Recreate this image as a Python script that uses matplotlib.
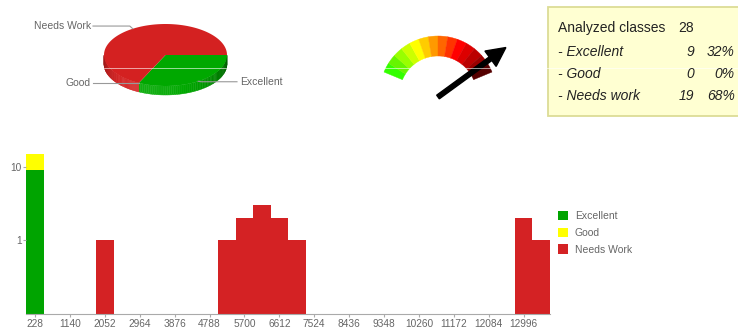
import numpy as np
import matplotlib.pyplot as plt
from matplotlib.patches import Rectangle, Wedge, Polygon, FancyArrow

plt.rcParams["font.family"] = ["Liberation Sans", "DejaVu Sans"]

# summary of the analyzed classes
class_names = ["Excellent", "Good", "Needs Work"]
class_counts = [9, 0, 19]
table_names = ["Excellent", "Good", "Needs work"]

# histogram of class sizes (bin width 456)
bin_width = 456
excellent_x = [228]
excellent_n = [9]
good_x = [228]
good_n = [6]
needs_x = [2052, 5244, 5700, 6156, 6612, 7068, 12996, 13452]
needs_n = [1, 1, 2, 3, 2, 1, 2, 1]
xtick_vals = [228, 1140, 2052, 2964, 3876, 4788, 5700, 6612, 7524, 8436,
              9348, 10260, 11172, 12084, 12996]

gauge_value = 0.9
gauge_colors = ["#33ff00", "#66f500", "#99ff00", "#ccff00", "#ffff00", "#ffcc00",
                "#ff9900", "#ff6600", "#ff3300", "#ff0000", "#dd0000", "#bb0000",
                "#990000", "#550000"]

GREEN = "#00a400"
RED = "#d42224"
YELLOW = "#ffff00"
GRAY = "#666666"

fig = plt.figure(figsize=(7.38, 3.29), dpi=100)

# pixel-space overlay for the pie, gauge and summary box
ov = fig.add_axes([0, 0, 1, 1])
ov.set_xlim(0, 738)
ov.set_ylim(329, 0)
ov.axis("off")


def shade(rgb, k):
    rgb = np.array(rgb)
    if k <= 1:
        return tuple(rgb * k)
    return tuple(rgb + (1 - rgb) * (k - 1))


# 3D pie
cx, cy, a, b, depth = 165.5, 55, 61.5, 31, 9
pie_cols = [(0, 0.66, 0), (1, 1, 0), (0.83, 0.13, 0.13)]
fracs = np.array(class_counts) / sum(class_counts)
edges = np.concatenate([[0], np.cumsum(fracs)]) * 2 * np.pi
for i in range(3):
    t1, t2 = edges[i], edges[i + 1]
    if t2 - t1 <= 0:
        continue
    # side wall, only the front half is visible
    s1, s2 = max(t1, 0), min(t2, np.pi)
    if s2 > s1:
        ts = np.linspace(s1, s2, 60)
        for u, v in zip(ts[:-1], ts[1:]):
            k = 0.62 + 0.45 * np.cos((u + v) / 2 - np.radians(105))
            pts = [(cx + a * np.cos(u), cy + b * np.sin(u)),
                   (cx + a * np.cos(v), cy + b * np.sin(v)),
                   (cx + a * np.cos(v), cy + b * np.sin(v) + depth),
                   (cx + a * np.cos(u), cy + b * np.sin(u) + depth)]
            ov.add_patch(Polygon(pts, closed=True, fc=shade(pie_cols[i], k),
                                 ec=shade(pie_cols[i], k), lw=0.3))
    ts = np.linspace(t1, t2, 120)
    pts = [(cx, cy)] + [(cx + a * np.cos(t), cy + b * np.sin(t)) for t in ts]
    ov.add_patch(Polygon(pts, closed=True, fc=pie_cols[i], ec="none"))

# pie labels with leader lines from the rim
for i, name in enumerate(class_names):
    tm = (edges[i] + edges[i + 1]) / 2
    px, py = cx + a * np.cos(tm), cy + b * np.sin(tm)
    if np.cos(tm) >= 0:
        ov.plot([px, px + 3, 237], [py, py + 0.5, py + 0.5], color="#999999", lw=0.8)
        ov.text(240, py + 0.5, name, fontsize=7.5, color=GRAY, va="center", ha="left")
    else:
        ly = py - 2.7 if np.sin(tm) < 0 else py
        ov.plot([px, px - 3, 93], [py, ly, ly], color="#999999", lw=0.8)
        ov.text(91, ly, name, fontsize=7.5, color=GRAY, va="center", ha="right")

# gauge
gx, gy, R, r = 438, 94.5, 58.5, 38.5
a0, a1 = 157.4, 22.6
step = (a0 - a1) / len(gauge_colors)
for j, c in enumerate(gauge_colors):
    hi = a0 - j * step
    lo = hi - step
    ov.add_patch(Wedge((gx, gy), R, -hi, -lo, width=R - r, fc=c, ec=c, lw=0.3))
ang = np.radians(a0 - gauge_value * (a0 - a1))
L = 84
ov.add_patch(FancyArrow(gx, gy + 2.5, L * np.cos(ang), -L * np.sin(ang), width=4.5,
                        head_width=19, head_length=19, length_includes_head=True,
                        color="black"))

# summary box
ov.add_patch(Rectangle((548, 7), 200, 109, fc="#ffffd2", ec="#dcdc96", lw=1.3))
total = sum(class_counts)
ov.text(558, 28, "Analyzed classes", fontsize=10, color="#222222", va="center")
ov.text(678, 28, str(total), fontsize=10, color="#222222", va="center")
for i, name in enumerate(table_names):
    y = 52 + i * 22
    ov.text(558, y, "- " + name, fontsize=10, style="italic", color="#222222", va="center")
    ov.text(694, y, str(class_counts[i]), fontsize=10, style="italic", color="#222222",
            va="center", ha="right")
    ov.text(735, y, "%d%%" % round(100 * class_counts[i] / total), fontsize=10,
            style="italic", color="#222222", va="center", ha="right")

ov.plot([0, 738], [68, 68], color="white", lw=0.6, alpha=0.7)

# histogram
ax = fig.add_axes([26.3 / 738, 15 / 329, 523.5 / 738, 169.6 / 329])
ax.set_yscale("log")
ax.bar(excellent_x, excellent_n, width=bin_width, color=GREEN, label="Excellent")
ax.bar(good_x, good_n, width=bin_width, bottom=excellent_n, color=YELLOW, label="Good")
ax.bar(needs_x, needs_n, width=bin_width, color=RED, label="Needs Work")
ax.set_xlim(0, 13680)
ax.set_ylim(0.1, 20)
ax.set_xticks(xtick_vals)
ax.set_xticklabels([str(v) for v in xtick_vals])
ax.set_yticks([1, 10])
ax.set_yticklabels(["1", "10"])
ax.minorticks_off()
ax.tick_params(colors="#aaaaaa", labelcolor=GRAY, labelsize=7.3, length=2.2, width=0.8, pad=1.2)
for s in ["top", "right", "left"]:
    ax.spines[s].set_visible(False)
ax.spines["bottom"].set_color("#aaaaaa")
ax.legend(loc="upper left", bbox_to_anchor=(558 / 738, 1 - 211 / 329),
          bbox_transform=fig.transFigure, frameon=False, fontsize=7.5,
          handlelength=1.0, handleheight=1.0, handletextpad=0.6, labelspacing=0.62,
          labelcolor=GRAY, borderaxespad=0, borderpad=0)

fig.savefig("out.png", dpi=100)
